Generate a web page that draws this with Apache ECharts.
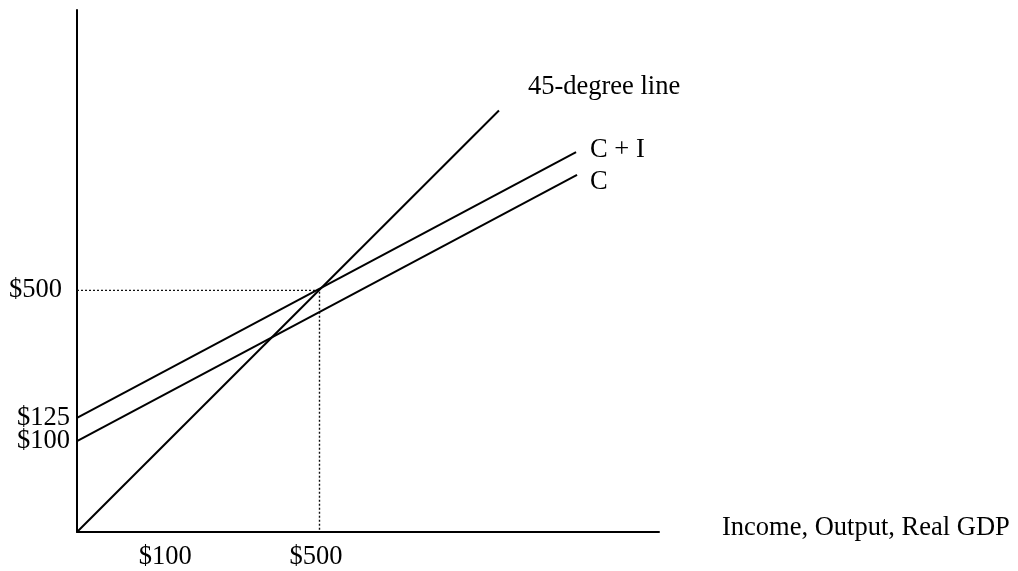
<!DOCTYPE html>
<html>
<head>
<meta charset="utf-8">
<style>
  html, body { margin: 0; padding: 0; background: #ffffff; }
  #chart { width: 1018px; height: 571px; }
</style>
<script src="https://cdn.jsdelivr.net/npm/echarts@6/dist/echarts.min.js"></script>
</head>
<body>
<div id="chart"></div>
<script>
// Schematic Keynesian cross (drawn units, not to scale)
const xTickValues = [182, 500];
const xTickLabels = ['$100', '$500'];
const yTickValues = [188, 236, 500];
const yTickLabels = ['$100', '$125', '$500'];

const seriesNames = ['45-degree line', 'C + I', 'C'];
const line45 = [[0, 0], [870, 872]];
const lineCI = [[0, 236], [1029, 786]];
const lineC = [[0, 188], [1031, 739]];
const equilibrium = [[0, 500], [500, 500], [500, 0]];

const xAxisName = 'Income, Output, Real GDP';

const FONT = '"Liberation Serif", "Times New Roman", serif';
const FS = 26.5;

function lookup(values, labels) {
  return function (v) {
    const i = values.findIndex(function (t) { return Math.abs(t - v) < 0.5; });
    return i >= 0 ? labels[i] : '';
  };
}
const xLab = lookup(xTickValues, xTickLabels);
const yLab = lookup(yTickValues, yTickLabels);

function endLabeled(data, text, pos) {
  return data.map(function (p, i) {
    if (i !== data.length - 1) return { value: p, symbolSize: 0 };
    return {
      value: p,
      symbol: 'circle',
      symbolSize: 2,
      itemStyle: { color: 'rgba(0,0,0,0)', borderWidth: 0 },
      label: {
        show: true, formatter: text, position: pos, align: 'left', verticalAlign: 'middle',
        color: '#000', fontFamily: FONT, fontSize: FS
      }
    };
  });
}

function yLabelAxis(values, show) {
  return {
    type: 'value', min: 0, max: 1080, position: 'left',
    axisLine: { show: show, onZero: false, lineStyle: { color: '#000', width: 2 } },
    axisTick: { show: false },
    splitLine: { show: false },
    axisLabel: {
      customValues: values,
      hideOverlap: false, showMinLabel: true, showMaxLabel: true,
      formatter: function (v) {
        const t = yLab(v);
        return t === '$500' ? '{s|' + t + '}' : t;
      },
      margin: 7, color: '#000', fontFamily: FONT, fontSize: FS,
      rich: { s: { fontFamily: FONT, fontSize: FS, color: '#000', padding: [0, 8, 0, 0] } }
    }
  };
}

const chart = echarts.init(document.getElementById('chart'), null, { renderer: 'canvas' });
chart.setOption({
  animation: false,
  backgroundColor: '#ffffff',
  grid: { left: 77, right: 359, top: 10, bottom: 39, containLabel: false },
  xAxis: {
    type: 'value', min: 0, max: 1200,
    name: xAxisName, nameLocation: 'end', nameGap: 63,
    nameTextStyle: { color: '#000', fontFamily: FONT, fontSize: FS, verticalAlign: 'bottom', lineHeight: 7 },
    axisLine: { show: true, onZero: false, lineStyle: { color: '#000', width: 2 } },
    axisTick: { show: false },
    splitLine: { show: false },
    axisLabel: {
      customValues: xTickValues,
      hideOverlap: false, showMinLabel: true, showMaxLabel: true,
      formatter: function (v) {
        const t = xLab(v);
        return t === '$500' ? '{s|' + t + '}' : t;
      },
      margin: 12, color: '#000', fontFamily: FONT, fontSize: FS,
      rich: { s: { fontFamily: FONT, fontSize: FS, color: '#000', padding: [0, 7, 0, 0] } }
    }
  },
  yAxis: [
    yLabelAxis([yTickValues[0], yTickValues[2]], true),
    yLabelAxis([yTickValues[1]], false)
  ],
  series: [
    {
      name: 'equilibrium', type: 'line', data: equilibrium, symbol: 'none',
      lineStyle: { color: '#111', width: 1.4, type: [2, 2] }, silent: true, z: 1
    },
    {
      name: seriesNames[0], type: 'line', data: endLabeled(line45, seriesNames[0], [30, -22]),
      showSymbol: true, symbol: 'circle', symbolSize: 0,
      labelLayout: { hideOverlap: false },
      lineStyle: { color: '#000', width: 2 }, z: 3
    },
    {
      name: seriesNames[1], type: 'line', data: endLabeled(lineCI, seriesNames[1], [15, -1]),
      showSymbol: true, symbol: 'circle', symbolSize: 0,
      labelLayout: { hideOverlap: false },
      lineStyle: { color: '#000', width: 2 }, z: 3
    },
    {
      name: seriesNames[2], type: 'line', data: endLabeled(lineC, seriesNames[2], [14, 8]),
      showSymbol: true, symbol: 'circle', symbolSize: 0,
      labelLayout: { hideOverlap: false },
      lineStyle: { color: '#000', width: 2 }, z: 3
    }
  ]
});
</script>
</body>
</html>
